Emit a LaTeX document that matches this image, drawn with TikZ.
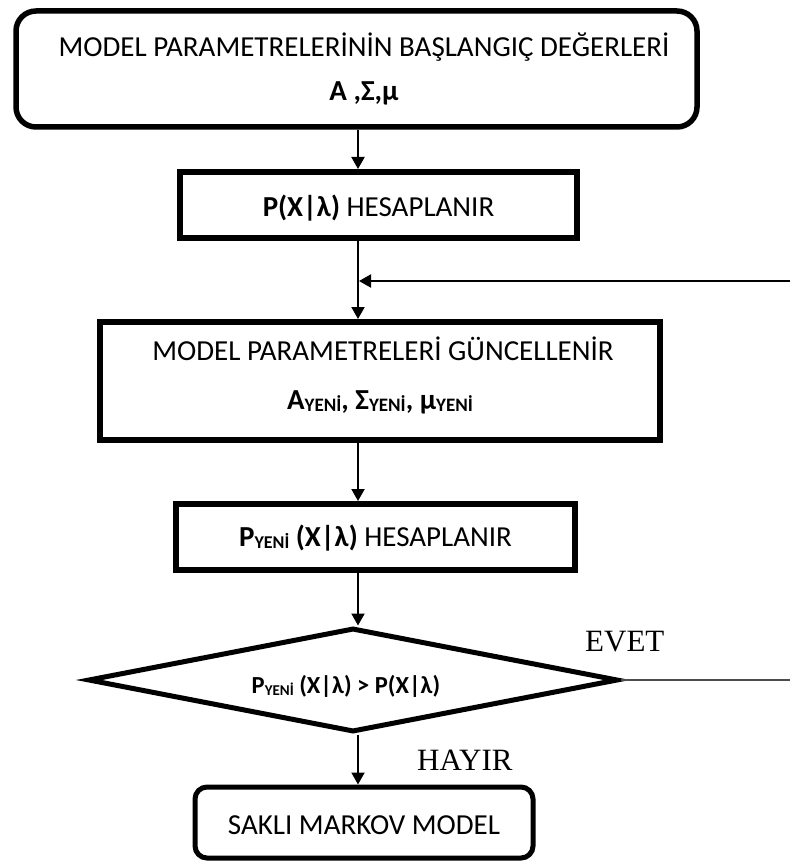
\documentclass[tikz,border=0pt]{standalone}
\usepackage{fontspec}
\setmainfont{Carlito}
\newfontfamily\answerfont{Liberation Serif}
\usetikzlibrary{arrows.meta,shapes.geometric}
% lowered small "YENİ" index used after A, Σ, μ and P
\newcommand{\yenisub}[1]{\raisebox{-2pt}{\fontsize{#1}{#1}\selectfont\bfseries YENİ}}

\begin{document}
\begin{tikzpicture}[x=1pt,y=-1pt,
  every node/.style={inner sep=0pt},
  roundbox/.style={draw, rectangle, line width=5.5pt, rounded corners=20pt},
  endbox/.style={draw, rectangle, line width=5pt, rounded corners=12pt},
  flowbox/.style={draw, rectangle, line width=6pt},
  decision/.style={draw, diamond, line width=5pt},
  boxtext/.style={anchor=base, font=\fontsize{29}{35}\selectfont},
  answer/.style={anchor=base west, font=\answerfont\fontsize{31}{37}\selectfont},
  flowarrow/.style={draw, line width=2pt, -{Triangle[length=12pt,width=13pt]}},
  thinline/.style={draw, line width=1.2pt, black!70}
]
\useasboundingbox (0,0) rectangle (790,861);

% column of the vertical connectors
\coordinate (ax) at (358,0);

% initial parameters
\node[roundbox, minimum width=681pt, minimum height=116pt] (init) at (356.5,69) {};
\node[boxtext] (initA) at (364,57) {MODEL PARAMETRELERİNİN BAŞLANGIÇ DEĞERLERİ};
\node[boxtext, font=\fontsize{29}{35}\selectfont\bfseries] (initB) at (364,101) {A ,Σ,μ};

% likelihood
\node[flowbox, minimum width=397pt, minimum height=66pt] (calc) at (378.5,205) {};
\node[boxtext] (calcT) at (378.5,216) {\textbf{P(X|λ)} HESAPLANIR};

% parameter update
\node[flowbox, minimum width=560pt, minimum height=118pt] (upd) at (380,381) {};
\node[boxtext] (updA) at (383,360) {MODEL PARAMETRELERİ GÜNCELLENİR};
\node[boxtext, font=\fontsize{29}{35}\selectfont\bfseries] (updB) at (380,409)
  {A\yenisub{19}, Σ\yenisub{19}, μ\yenisub{19}};

% new likelihood
\node[flowbox, minimum width=399pt, minimum height=66pt] (newc) at (375.5,537) {};
\node[boxtext] (newcT) at (375.5,546) {\textbf{P\yenisub{18} (X|λ)} HESAPLANIR};

% comparison
\node[decision, minimum width=530pt, minimum height=104pt] (cmp) at (353,680) {};
\node[boxtext, font=\fontsize{24.5}{29}\selectfont\bfseries] (cmpT) at (346,693)
  {P\yenisub{15} (X|λ) > P(X|λ)};

% result
\node[endbox, minimum width=338pt, minimum height=71pt] (hmm) at (364,822.5) {};
\node[boxtext] (hmmT) at (364,834) {SAKLI MARKOV MODEL};

% answers
\node[answer] (evet) at (585,651) {EVET};
\node[answer] (hayir) at (417,770) {HAYIR};

% connectors
\draw[flowarrow] (init.south -| ax) -- (calc.north -| ax);
\draw[flowarrow] (calc.south -| ax) -- (upd.north -| ax);
\draw[flowarrow] (upd.south -| ax) -- (newc.north -| ax);
\draw[flowarrow] (newc.south -| ax) -- (cmp.north -| ax);
\draw[flowarrow] (cmp.south -| ax) -- (hmm.north -| ax);

% loop back from the right edge
\coordinate (loopin) at (790,281);
\coordinate (loopjoin) at (359,281);
\draw[flowarrow] (loopin) -- (loopjoin);

% EVET branch leaving the comparison
\coordinate (evetout) at (790,680);
\draw[thinline] (cmp.east) -- (evetout);
\end{tikzpicture}
\end{document}
